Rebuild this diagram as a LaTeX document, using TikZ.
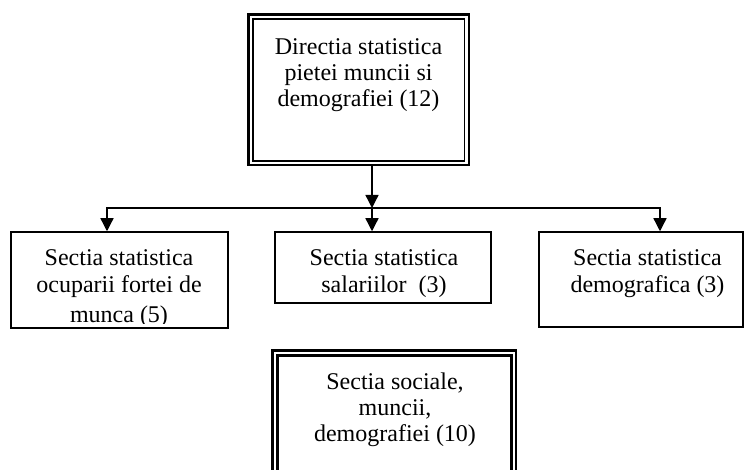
\documentclass[tikz,border=0pt]{standalone}
\usepackage{fontspec}
\setmainfont{Liberation Serif}
\usetikzlibrary{arrows.meta}
\begin{document}
\begin{tikzpicture}[x=1pt,y=-1pt,
  txt/.style={anchor=base,inner sep=0pt,font=\fontsize{24}{26}\selectfont},
  sbox/.style={draw,line width=1.5pt,inner sep=0pt},
  thickln/.style={draw,line width=2.5pt,inner sep=0pt},
  thinln/.style={draw,line width=1.3pt,inner sep=0pt},
  conn/.style={line width=1.3pt},
  arr/.style={conn,-{Triangle[width=13pt,length=13pt]}}]
\clip (0,0) rectangle (744,470);
\fill[white] (0,0) rectangle (744,470);
% top box
\node[thickln, minimum width=220.5pt, minimum height=150.5pt] (top) at (358.75,89.75) {};
\node[thinln, minimum width=211.5pt, minimum height=142pt] (topin) at (358.75,90) {};
\node[txt] (t1) at (358.5,55) {Directia statistica};
\node[txt] (t2) at (358.5,81) {pietei muncii si};
\node[txt] (t3) at (358.5,107) {demografiei (12)};
% second row boxes
\node[sbox, minimum width=217pt, minimum height=96pt] (left) at (119.5,280) {};
\node[txt] (l1) at (119,266) {Sectia statistica};
\node[txt] (l2) at (119,292.5) {ocuparii fortei de};
\begin{scope}
\clip (11,232) rectangle (228,323);
\node[txt] (l3) at (119,322) {munca (5)};
\end{scope}
\node[sbox, minimum width=216pt, minimum height=71pt] (mid) at (383,267.5) {};
\node[txt] (m1) at (384,266) {Sectia statistica};
\node[txt] (m2) at (384,292) {salariilor\ \ (3)};
\node[sbox, minimum width=204pt, minimum height=95pt] (right) at (641,279.5) {};
\node[txt] (r1) at (647.5,266) {Sectia statistica};
\node[txt] (r2) at (647.5,292) {demografica (3)};
% bottom box
\node[thickln, minimum width=243.7pt, minimum height=149.5pt] (bot) at (394.2,425.25) {};
\node[thickln, line width=2.3pt, minimum width=234pt, minimum height=139.5pt] (botin) at (394.5,425.25) {};
\node[txt] (b1) at (395,389) {Sectia sociale,};
\node[txt] (b2) at (395,415) {muncii,};
\node[txt] (b3) at (395,441) {demografiei (10)};
% connectors
\coordinate (hub) at (372,208);
\coordinate (lj) at (107,208);
\coordinate (rj) at (660,208);
\draw[arr] (top.south -| hub) -- (hub);
\draw[conn, line cap=rect] (lj) -- (rj);
\draw[arr] (lj) -- (lj |- left.north);
\draw[arr] (hub) -- (hub |- mid.north);
\draw[arr] (rj) -- (rj |- right.north);
\end{tikzpicture}
\end{document}
